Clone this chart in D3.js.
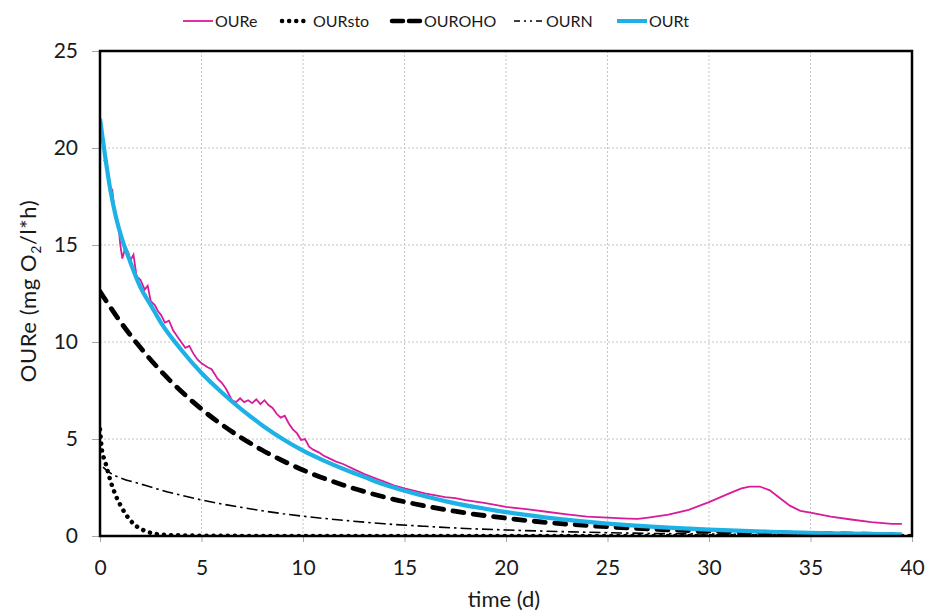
<!DOCTYPE html>
<html>
<head>
<meta charset="utf-8">
<script src="https://cdn.jsdelivr.net/npm/d3@7"></script>
<style>
  body { margin: 0; background: #fff; }
  svg { display: block; font-family: Lato, "Open Sans", sans-serif; }
</style>
</head>
<body>
<svg id="chart" width="928" height="613"></svg>
<script>
// ---- data: [time (d), OUR (mg O2/l*h)] ----
const ourE = [
  [0.2,19.4],[0.35,19.0],[0.5,17.6],[0.6,17.9],[0.75,16.4],[0.9,16.1],[1.0,15.0],[1.1,14.3],
  [1.25,14.9],[1.4,14.6],[1.5,14.2],[1.65,14.5],[1.8,13.4],[2.0,13.2],[2.2,12.7],[2.35,12.9],
  [2.5,12.1],[2.7,11.9],[2.85,11.6],[3.0,11.4],[3.2,11.0],[3.4,11.1],[3.6,10.6],[3.8,10.3],
  [4.0,10.0],[4.2,9.7],[4.4,9.8],[4.6,9.4],[4.8,9.1],[5.0,8.9],[5.3,8.7],[5.5,8.6],[5.8,8.1],
  [6.0,7.9],[6.2,7.6],[6.5,7.0],[6.7,6.9],[6.9,7.1],[7.1,6.9],[7.3,7.0],[7.5,6.85],[7.7,7.05],
  [7.9,6.8],[8.1,7.0],[8.3,6.75],[8.5,6.6],[8.7,6.3],[8.9,6.1],[9.1,6.2],[9.3,5.8],[9.5,5.5],
  [9.7,5.3],[9.9,4.95],[10.1,5.0],[10.3,4.6],[10.5,4.45],[10.8,4.3],[11.0,4.15],[11.3,4.0],
  [11.6,3.85],[12.0,3.7],[12.5,3.45],[13.0,3.2],[13.5,3.0],[14.0,2.8],[14.5,2.6],[15.0,2.45],
  [16.0,2.2],[17.0,2.0],[17.5,1.95],[18.0,1.85],[19.0,1.7],[20.0,1.5],[21.0,1.38],[22.0,1.25],
  [23.0,1.12],[24.0,1.0],[25.0,0.95],[26.0,0.9],[26.5,0.88],[27.0,0.95],[28.0,1.1],[29.0,1.35],
  [30.0,1.75],[31.0,2.2],[31.6,2.45],[32.0,2.55],[32.5,2.55],[33.0,2.35],[33.5,1.95],[34.0,1.55],
  [34.5,1.3],[35.0,1.2],[36.0,1.0],[37.0,0.85],[38.0,0.72],[39.0,0.62],[39.5,0.62]
];
const ourSto = [
  [0,5.5],[0.1,4.4],[0.25,3.85],[0.5,2.9],[0.75,2.15],[1.0,1.6],[1.25,1.15],[1.5,0.8],[1.8,0.5],
  [2.2,0.27],[2.6,0.14],[3.0,0.07],[4.0,0.03],[6.0,0.01],[10,0],[20,0],[30,0],[40,0]
];
const ourOHO = [
  [0,12.6],[1,11.05],[2,9.7],[3,8.5],[4,7.46],[5,6.54],[6,5.74],[7,5.04],[8,4.42],[9,3.88],
  [10,3.4],[12,2.62],[14,2.01],[16,1.55],[18,1.19],[20,0.92],[22,0.7],[24,0.54],[26,0.42],
  [28,0.32],[30,0.25],[33,0.17],[36,0.11],[39.5,0.07]
];
const ourN = [
  [0.15,3.55],[0.5,3.25],[1,3.0],[2,2.68],[3,2.37],[4,2.1],[5,1.86],[6,1.65],[7,1.47],[8,1.3],
  [9,1.15],[10,1.02],[12,0.81],[14,0.63],[16,0.5],[18,0.39],[20,0.31],[23,0.22],[26,0.15],
  [30,0.1],[35,0.05],[39.5,0.03]
];
const ourT = [
  [0,21.5],[0.25,19.6],[0.5,17.9],[0.75,16.6],[1,15.6],[1.5,14.1],[2,12.8],[2.5,11.9],[3,11.0],
  [4,9.6],[5,8.4],[6,7.4],[7,6.5],[8,5.7],[9,5.0],[10,4.4],[11,3.9],[12,3.45],[13,3.05],
  [14,2.65],[15,2.33],[17,1.8],[20,1.23],[22,0.95],[25,0.64],[28,0.43],[30,0.33],[33,0.22],
  [36,0.14],[39.5,0.09]
];
const xTicks = [0, 5, 10, 15, 20, 25, 30, 35, 40];
const yTicks = [0, 5, 10, 15, 20, 25];
const legendNames = ["OURe", "OURsto", "OUROHO", "OURN", "OURt"];

// ---- layout ----
const svg = d3.select("#chart");
const pLeft = 100, pRight = 912, pTop = 51, pBottom = 536;

const x = d3.scaleLinear().domain([0, 40]).range([pLeft, pRight]);
const y = d3.scaleLinear().domain([0, 25]).range([pBottom, pTop]);

// grid
svg.append("g")
  .selectAll("line")
  .data(xTicks.slice(1, -1))
  .join("line")
  .attr("x1", d => x(d)).attr("x2", d => x(d))
  .attr("y1", pTop).attr("y2", pBottom)
  .attr("stroke", "#c4c4c4").attr("stroke-dasharray", "2,2");
svg.append("g")
  .selectAll("line")
  .data(yTicks.slice(1, -1))
  .join("line")
  .attr("x1", pLeft).attr("x2", pRight)
  .attr("y1", d => y(d)).attr("y2", d => y(d))
  .attr("stroke", "#c4c4c4").attr("stroke-dasharray", "2,2");

// axes
const xAxis = svg.append("g")
  .attr("transform", `translate(0,${pBottom})`)
  .call(d3.axisBottom(x).tickValues(xTicks).tickSize(6).tickPadding(18));
const yAxis = svg.append("g")
  .attr("transform", `translate(${pLeft},0)`)
  .call(d3.axisLeft(y).tickValues(yTicks).tickSize(8).tickPadding(14));
[xAxis, yAxis].forEach(a => {
  a.select(".domain").remove();
  a.selectAll(".tick line").attr("stroke", "#a6a6a6");
  a.selectAll(".tick text").attr("font-size", 21).attr("fill", "#1a1a1a")
    .attr("font-family", "Lato, 'Open Sans', sans-serif");
});

// series
svg.append("clipPath").attr("id", "plot")
  .append("rect").attr("x", pLeft).attr("y", pTop - 5)
  .attr("width", pRight - pLeft).attr("height", pBottom - pTop + 5);

const smooth = d3.line().x(d => x(d[0])).y(d => y(d[1])).curve(d3.curveMonotoneX);
const rough = d3.line().x(d => x(d[0])).y(d => y(d[1]));

const g = svg.append("g").attr("clip-path", "url(#plot)");
g.append("path").attr("d", rough(ourE))
  .attr("fill", "none").attr("stroke", "#d81b9a").attr("stroke-width", 1.8);
g.append("path").attr("d", smooth(ourSto))
  .attr("fill", "none").attr("stroke", "#000").attr("stroke-width", 4.5)
  .attr("stroke-linecap", "round").attr("stroke-dasharray", "0.1,7");
g.append("path").attr("d", smooth(ourOHO))
  .attr("fill", "none").attr("stroke", "#000").attr("stroke-width", 4.8)
  .attr("stroke-linecap", "round").attr("stroke-dasharray", "11,9.5");
g.append("path").attr("d", smooth(ourN))
  .attr("fill", "none").attr("stroke", "#000").attr("stroke-width", 1.6)
  .attr("stroke-dasharray", "11,4,2.5,4");
g.append("path").attr("d", smooth(ourT))
  .attr("fill", "none").attr("stroke", "#1eb1e6").attr("stroke-width", 4.2);

// frame
svg.append("rect")
  .attr("x", pLeft).attr("y", pTop)
  .attr("width", pRight - pLeft).attr("height", pBottom - pTop)
  .attr("fill", "none").attr("stroke", "#000").attr("stroke-width", 2.5);

// axis titles
svg.append("text")
  .attr("x", (pLeft + pRight) / 2 - 2).attr("y", 607)
  .attr("text-anchor", "middle").attr("font-size", 22).attr("fill", "#1a1a1a")
  .text("time (d)");

const yt = svg.append("text")
  .attr("transform", "translate(36,291) rotate(-90)")
  .attr("text-anchor", "middle").attr("font-size", 22).attr("fill", "#1a1a1a")
  .attr("letter-spacing", 0.6);
yt.append("tspan").text("OURe (mg O");
yt.append("tspan").attr("font-size", 14).attr("dy", 5).text("2");
yt.append("tspan").attr("dy", -5).text("/l*h)");

// legend
const legendStyles = [
  { x: 183, stroke: "#d81b9a", w: 1.8, dash: null, cap: "butt" },
  { x: 282, stroke: "#000", w: 4.5, dash: "0.1,7", cap: "round" },
  { x: 392, stroke: "#000", w: 4.5, dash: "11,6", cap: "round" },
  { x: 514, stroke: "#000", w: 1.6, dash: "6,4,2,4,2,4", cap: "butt" },
  { x: 617, stroke: "#1eb1e6", w: 4, dash: null, cap: "butt" }
];
const legendItems = svg.append("g").selectAll("g")
  .data(legendNames)
  .join("g")
  .attr("transform", (d, i) => `translate(${legendStyles[i].x},21)`);
legendItems.append("line")
  .attr("x1", 0).attr("x2", (d, i) => i === 1 ? 28 : 30)
  .attr("stroke", (d, i) => legendStyles[i].stroke)
  .attr("stroke-width", (d, i) => legendStyles[i].w)
  .attr("stroke-dasharray", (d, i) => legendStyles[i].dash)
  .attr("stroke-linecap", (d, i) => legendStyles[i].cap);
legendItems.append("text")
  .attr("x", (d, i) => i === 1 ? 31 : 32).attr("dy", "0.36em")
  .attr("font-size", 16).attr("fill", "#1a1a1a")
  .text(d => d);
</script>
</body>
</html>
